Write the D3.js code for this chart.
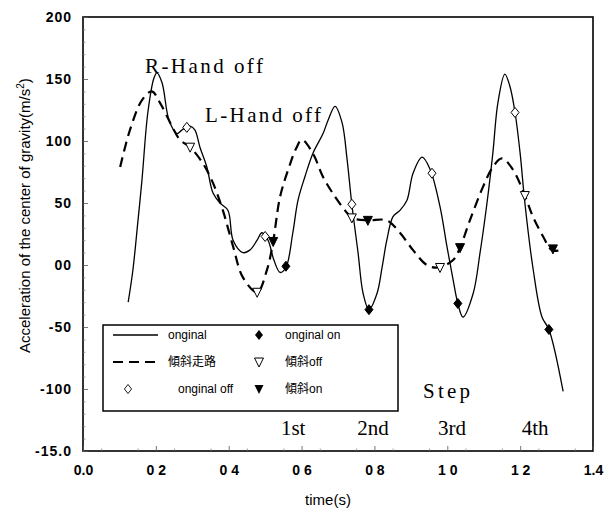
<!DOCTYPE html>
<html><head><meta charset="utf-8">
<script src="https://cdn.jsdelivr.net/npm/d3@7"></script>
<style>body{margin:0;background:#fff}</style>
</head><body>
<svg id="c" width="606" height="511"></svg>
<script>
// ---- data ----
const xTickValues = [0, 0.2, 0.4, 0.6, 0.8, 1.0, 1.2, 1.4];
const xTickLabels = ["0.0", "0 2", "0 4", "0 6", "0 8", "1 0", "1 2", "1.4"];
const yTickValues = [-150, -100, -50, 0, 50, 100, 150, 200];
const yTickLabels = ["-15.0", "-100", "-50", "00", "50", "100", "150", "200"];

const origT = [0.124,0.137,0.151,0.162,0.178,0.195,0.203,0.217,0.236,0.258,0.272,0.294,0.307,0.321,0.340,0.357,0.376,0.398,0.412,0.439,0.458,0.478,0.491,0.508,0.524,0.541,0.557,0.576,0.590,0.609,0.631,0.659,0.673,0.692,0.711,0.725,0.738,0.755,0.769,0.785,0.807,0.821,0.834,0.851,0.870,0.889,0.906,0.931,0.953,0.980,0.999,1.016,1.029,1.043,1.071,1.090,1.109,1.125,1.139,1.158,1.172,1.186,1.200,1.213,1.235,1.260,1.279,1.318];
const origV = [-30,-4,36,69,123,151,155,147,117,106,109,112,109,95,79,58,50,44,20,10,12,20,26,20,4,-6,-2,26,52,71,90,106,117,128,115,85,49,10,-23,-36,-23,-2,20,39,44,52,74,87,77,47,15,-12,-31,-42,-23,10,50,90,131,154,144,123,90,50,-2,-42,-52,-102];

const slopeT = [0.102,0.129,0.162,0.189,0.211,0.239,0.266,0.294,0.329,0.357,0.384,0.412,0.439,0.478,0.505,0.522,0.541,0.568,0.585,0.601,0.631,0.659,0.692,0.725,0.738,0.782,0.834,0.870,0.906,0.944,0.974,1.016,1.035,1.062,1.098,1.125,1.150,1.180,1.213,1.235,1.263,1.287,1.315];
const slopeV = [79,109,133,140,131,115,101,95,82,66,44,15,-10,-22,-4,19,55,81,94,101,90,71,55,42,38,36,36,26,12,0,-2,4,14,36,63,79,86,77,56,39,23,12,12];

const origOffT = [0.285, 0.500, 0.738, 0.958, 1.186];
const origOffV = [111, 23, 49, 74, 123];
const origOnT = [0.557, 0.785, 1.029, 1.279];
const origOnV = [-1, -36, -31, -52];
const slopeOffT = [0.294, 0.478, 0.738, 0.980, 1.213];
const slopeOffV = [95, -22, 38, -2, 56];
const slopeOnT = [0.522, 0.782, 1.035, 1.290];
const slopeOnV = [19, 36, 14, 13];

const annotations = [
  {text: "R-Hand off", t: 0.17, v: 155, w: 118},
  {text: "L-Hand off", t: 0.335, v: 115, w: 116}
];
const stepLabels = ["1st", "2nd", "3rd", "4th"];
const stepT = [0.577, 0.796, 1.013, 1.241];

// ---- drawing ----
const svg = d3.select("#c");
const x = d3.scaleLinear().domain([0, 1.4]).range([83, 593]);
const y = d3.scaleLinear().domain([-150, 200]).range([451, 17]);
const font = "'Liberation Sans', Arial, sans-serif";
const cjk = "'Liberation Sans', 'Noto Sans CJK JP', sans-serif";
const serif = "'Liberation Serif', 'DejaVu Serif', serif";

// frame
svg.append("rect").attr("x", x(0)).attr("y", y(200))
  .attr("width", x(1.4) - x(0)).attr("height", y(-150) - y(200))
  .attr("fill", "none").attr("stroke", "#000").attr("stroke-width", 1.6);

// axes with inward ticks
const xAxis = d3.axisBottom(x).tickValues(xTickValues)
  .tickFormat((d, i) => xTickLabels[i]).tickSizeInner(-5).tickSizeOuter(0).tickPadding(14);
const gx = svg.append("g").attr("transform", `translate(0,${y(-150)})`).call(xAxis);
gx.select(".domain").remove();
gx.selectAll("line").attr("stroke", "#555").attr("stroke-width", 0.8);
gx.selectAll("text").attr("font-family", font).attr("font-size", 14).attr("fill", "#000")
  .attr("font-weight", "bold");

const xMinor = d3.axisBottom(x).tickValues(d3.range(0.05, 1.4, 0.1)).tickSizeInner(-2.5).tickSizeOuter(0).tickFormat("");
const gxm = svg.append("g").attr("transform", `translate(0,${y(-150)})`).call(xMinor);
gxm.select(".domain").remove();
gxm.selectAll("line").attr("stroke", "#777").attr("stroke-width", 0.7);

const yAxis = d3.axisLeft(y).tickValues(yTickValues)
  .tickFormat((d, i) => yTickLabels[i]).tickSizeInner(-5).tickSizeOuter(0).tickPadding(11);
const gy = svg.append("g").attr("transform", `translate(${x(0)},0)`).call(yAxis);
gy.select(".domain").remove();
gy.selectAll("line").attr("stroke", "#555").attr("stroke-width", 0.8);
gy.selectAll("text").attr("font-family", font).attr("font-size", 14).attr("fill", "#000")
  .attr("font-weight", "bold").attr("letter-spacing", 1);

const yMinor = d3.axisLeft(y).tickValues(d3.range(-140, 200, 10).filter(v => v % 50 !== 0))
  .tickSizeInner(-2.5).tickSizeOuter(0).tickFormat("");
const gym = svg.append("g").attr("transform", `translate(${x(0)},0)`).call(yMinor);
gym.select(".domain").remove();
gym.selectAll("line").attr("stroke", "#777").attr("stroke-width", 0.7);

// axis titles
svg.append("text").attr("x", 328).attr("y", 505).attr("text-anchor", "middle")
  .attr("font-family", font).attr("font-size", 15).text("time(s)");
const yt = svg.append("text").attr("transform", "translate(30,353) rotate(-90)")
  .attr("text-anchor", "start").attr("font-family", font).attr("font-size", 15);
yt.append("tspan").text("Acceleration of the center of gravity(m/s");
yt.append("tspan").attr("dy", -6).attr("font-size", 10).text("2");
yt.append("tspan").attr("dy", 6).text(")");

// lines
const line = d3.line().x(d => x(d[0])).y(d => y(d[1])).curve(d3.curveCatmullRom.alpha(0.5));
svg.append("path").datum(origT.map((t, i) => [t, origV[i]])).attr("d", line)
  .attr("fill", "none").attr("stroke", "#000").attr("stroke-width", 1.3);
svg.append("path").datum(slopeT.map((t, i) => [t, slopeV[i]])).attr("d", line)
  .attr("fill", "none").attr("stroke", "#000").attr("stroke-width", 2.2)
  .attr("stroke-dasharray", "10,6");

// markers
const diamond = "M0,-5L4,0L0,5L-4,0Z";
const tri = "M-4.5,-4L4.5,-4L0,5Z";
function markers(ts, vs, path, filled) {
  svg.append("g").selectAll("path").data(ts.map((t, i) => [t, vs[i]])).join("path")
    .attr("d", path).attr("transform", d => `translate(${x(d[0])},${y(d[1])})`)
    .attr("fill", filled ? "#000" : "#fff").attr("stroke", "#000").attr("stroke-width", 1);
}
markers(origOffT, origOffV, diamond, false);
markers(slopeOffT, slopeOffV, tri, false);
markers(origOnT, origOnV, diamond, true);
markers(slopeOnT, slopeOnV, tri, true);

// annotations
annotations.forEach(a => {
  svg.append("text").attr("x", x(a.t)).attr("y", y(a.v)).attr("font-family", serif)
    .attr("font-size", 21).attr("textLength", a.w).attr("lengthAdjust", "spacing").text(a.text);
});
svg.append("text").attr("x", 423).attr("y", 398).attr("font-family", serif)
  .attr("font-size", 21).attr("textLength", 47).attr("lengthAdjust", "spacing").text("Step");
stepLabels.forEach((s, i) => {
  svg.append("text").attr("x", x(stepT[i])).attr("y", 435).attr("text-anchor", "middle")
    .attr("font-family", serif).attr("font-size", 21).text(s);
});

// legend
const lg = svg.append("g");
lg.append("rect").attr("x", 103).attr("y", 325).attr("width", 295).attr("height", 86)
  .attr("fill", "#fff").attr("stroke", "#000").attr("stroke-width", 1.5);
const rows = [335, 362, 389];
lg.append("line").attr("x1", 113).attr("x2", 158).attr("y1", rows[0]).attr("y2", rows[0])
  .attr("stroke", "#000").attr("stroke-width", 1.3);
lg.append("line").attr("x1", 113).attr("x2", 160).attr("y1", rows[1]).attr("y2", rows[1])
  .attr("stroke", "#000").attr("stroke-width", 2.2).attr("stroke-dasharray", "10,6");
lg.append("path").attr("d", diamond).attr("transform", `translate(128,${rows[2]}) scale(0.9)`)
  .attr("fill", "#fff").attr("stroke", "#000");
lg.append("path").attr("d", diamond).attr("transform", `translate(259,${rows[0]})`).attr("fill", "#000");
lg.append("path").attr("d", tri).attr("transform", `translate(259,${rows[1]})`).attr("fill", "#fff").attr("stroke", "#000");
lg.append("path").attr("d", tri).attr("transform", `translate(259,${rows[2]})`).attr("fill", "#000");
const legTexts = [
  ["onginal", 168, rows[0]], ["傾斜走路", 168, rows[1]], ["onginal off", 178, rows[2]],
  ["onginal on", 285, rows[0]], ["傾斜off", 285, rows[1]], ["傾斜on", 285, rows[2]]
];
legTexts.forEach(t => {
  lg.append("text").attr("x", t[1]).attr("y", t[2] + 4).attr("font-family", cjk)
    .attr("font-size", 12).text(t[0]);
});
</script>
</body></html>
